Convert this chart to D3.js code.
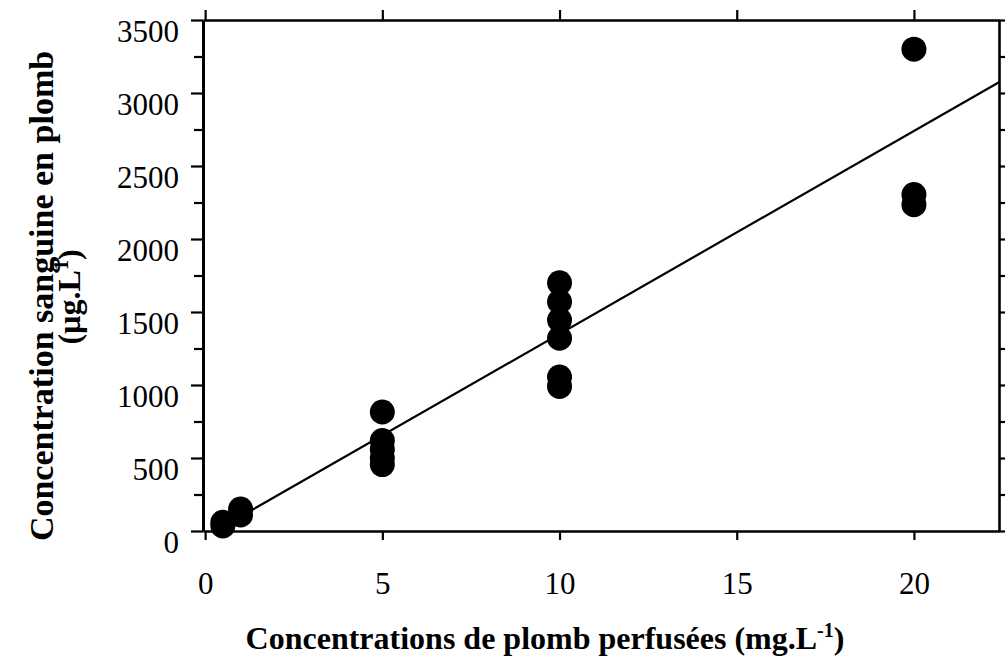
<!DOCTYPE html>
<html>
<head>
<meta charset="utf-8">
<script src="https://cdn.jsdelivr.net/npm/d3@7"></script>
<style>
  body { margin: 0; background: #fff; }
  text { font-family: "Liberation Serif", "Times New Roman", serif; fill: #000; }
</style>
</head>
<body>
<div id="chart"></div>
<script>
// perfused lead dose (mg/L) and blood lead (ug/L), one entry per animal
let doses = [0.5, 0.5, 1, 1, 5, 5, 5, 5, 5, 10, 10, 10, 10, 10, 10, 20, 20, 20]
let blood = [60, 35, 150, 110, 815, 620, 560, 500, 455, 1700, 1570, 1445, 1320, 1055, 990, 3300, 2305, 2235]

// linear fit drawn over the points
let fitSlope = 139
let fitIntercept = -40
let fitFrom = [0.5, 22.4]

// tick values
let xTicks = [0, 5, 10, 15, 20]
let yMajor = [0, 500, 1000, 1500, 2000, 2500, 3000, 3500]
let yMinor = [250, 750, 1250, 1750, 2250, 2750, 3250]

let svg_width = 1006
let svg_height = 668

let svg = d3.select("#chart")
  .append("svg")
  .attr("width", svg_width)
  .attr("height", svg_height)

let xScale = d3.scaleLinear()
               .domain([-0.06, 22.4])
               .range([203, 999])

let yScale = d3.scaleLinear()
               .domain([0, 3500])
               .range([531, 20])

let plotLeft = xScale.range()[0], plotRight = xScale.range()[1]
let plotTop = yScale.range()[1], plotBottom = yScale.range()[0]

function styleAxis(g) {
  g.select(".domain").attr("stroke-width", 2.6)
  g.selectAll(".tick line").attr("stroke-width", 2.2)
}

// bottom axis with labels
svg.append("g")
   .attr("transform", `translate(0,${plotBottom})`)
   .call(d3.axisBottom(xScale).tickValues(xTicks).tickSize(9).tickSizeOuter(0).tickPadding(32).tickFormat(d3.format("d")))
   .call(styleAxis)
   .call(g => g.selectAll("text").style("font-size", "31px").style("font-family", "Liberation Serif, Times New Roman, serif"))

// top axis, ticks only
svg.append("g")
   .attr("transform", `translate(0,${plotTop})`)
   .call(d3.axisTop(xScale).tickValues(xTicks).tickSize(10).tickSizeOuter(0).tickFormat(""))
   .call(styleAxis)

// left axis, major ticks with labels
svg.append("g")
   .attr("transform", `translate(${plotLeft},0)`)
   .call(d3.axisLeft(yScale).tickValues(yMajor).tickSize(12).tickSizeOuter(0).tickPadding(12).tickFormat(d3.format("d")))
   .call(styleAxis)
   .call(g => g.select(".domain").attr("stroke-width", 3))
   .call(g => g.selectAll("text")
                .attr("dy", "0.68em")
                .style("font-size", "31px")
                .style("font-family", "Liberation Serif, Times New Roman, serif"))

// left axis, minor ticks
svg.append("g")
   .attr("transform", `translate(${plotLeft},0)`)
   .call(d3.axisLeft(yScale).tickValues(yMinor).tickSize(9).tickSizeOuter(0).tickFormat(""))
   .call(styleAxis)

// right axis, ticks only
svg.append("g")
   .attr("transform", `translate(${plotRight},0)`)
   .call(d3.axisRight(yScale).tickValues(yMajor.concat(yMinor)).tickSize(6).tickSizeOuter(0).tickFormat(""))
   .call(styleAxis)

// fit line
let line = d3.line()
  .x(d => xScale(d))
  .y(d => yScale(fitSlope * d + fitIntercept))

svg.append("path")
   .datum(fitFrom)
   .attr("d", line)
   .attr("fill", "none")
   .attr("stroke", "#000")
   .attr("stroke-width", 2.2)

// points
svg.selectAll("circle.pt")
   .data(doses.map((d, i) => ({dose: d, value: blood[i]})))
   .enter()
   .append("circle")
   .attr("class", "pt")
   .attr("cx", d => xScale(d.dose))
   .attr("cy", d => yScale(d.value))
   .attr("r", 12.5)
   .attr("fill", "#000")

// x title
let xt = svg.append("text")
   .attr("x", 545)
   .attr("y", 649)
   .attr("text-anchor", "middle")
   .style("font-size", "32px")
   .style("font-weight", "bold")
xt.append("tspan").text("Concentrations de plomb perfusées (mg.L")
xt.append("tspan").attr("dy", -12).style("font-size", "20px").text("-1")
xt.append("tspan").attr("dy", 12).text(")")

// y title, two lines
svg.append("text")
   .attr("transform", "translate(53,296) rotate(-90)")
   .attr("text-anchor", "middle")
   .style("font-size", "34px")
   .style("font-weight", "bold")
   .text("Concentration sanguine en plomb")

let yt = svg.append("text")
   .attr("transform", "translate(80,297) rotate(-90)")
   .attr("text-anchor", "middle")
   .style("font-size", "32px")
   .style("font-weight", "bold")
yt.append("tspan").text("(µg.L")
yt.append("tspan").attr("dy", -12).style("font-size", "20px").text("1")
yt.append("tspan").attr("dy", 12).text(")")
</script>
</body>
</html>
